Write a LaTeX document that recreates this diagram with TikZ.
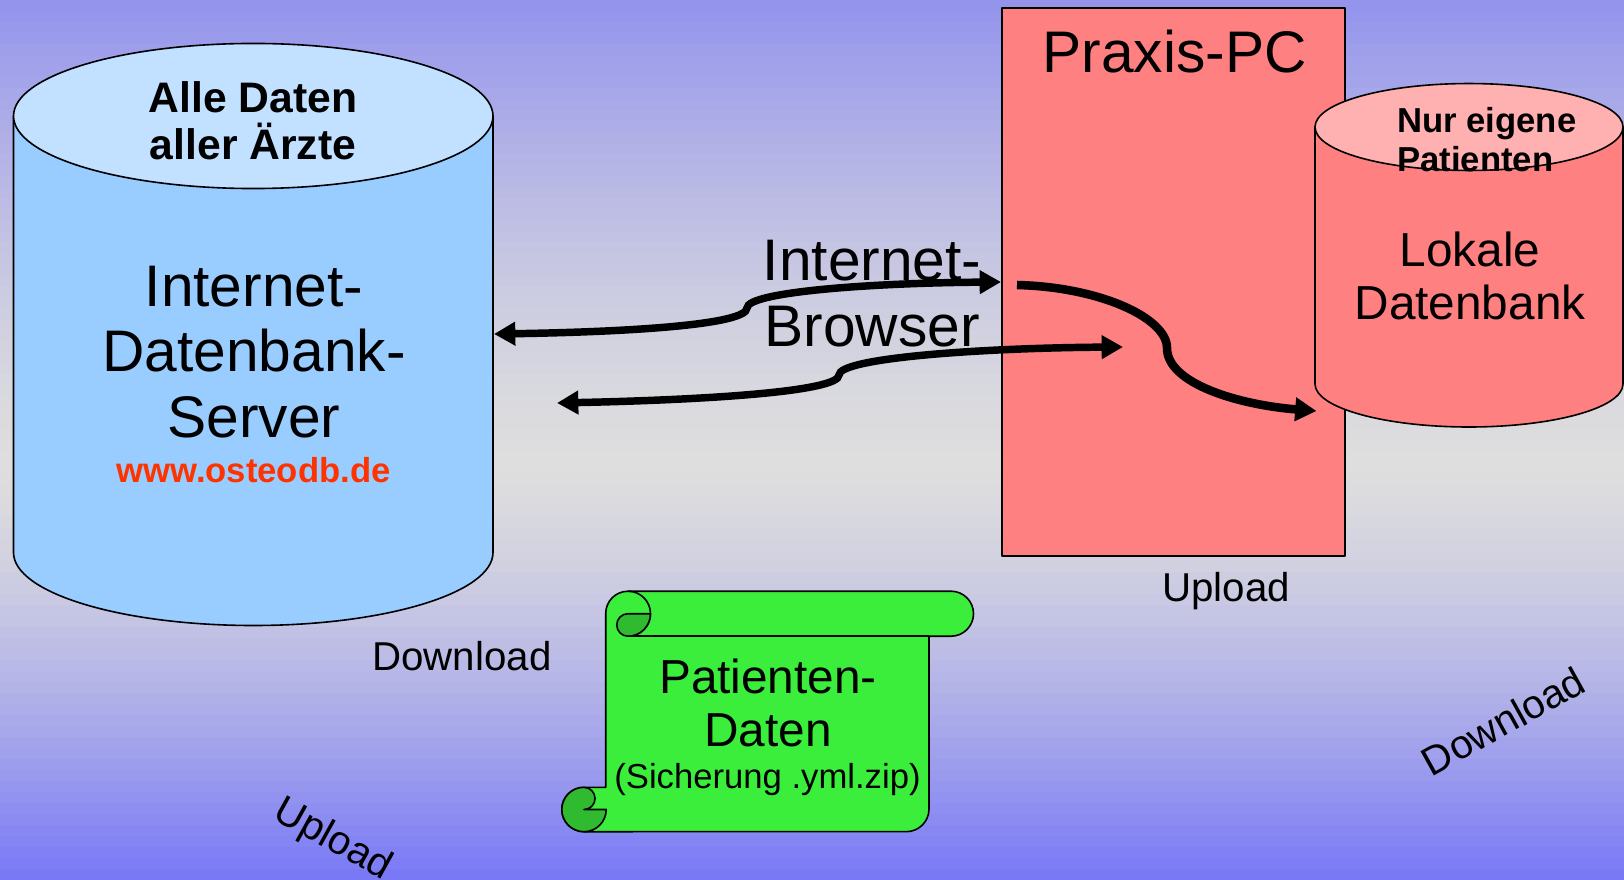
\documentclass[tikz,border=0pt]{standalone}
\usepackage{fontspec}
\setmainfont{Liberation Sans}
\usetikzlibrary{arrows.meta}
\definecolor{cylblue}{HTML}{99CCFF}
\definecolor{cyltop}{HTML}{C2E0FF}
\definecolor{pcred}{HTML}{FF8080}
\definecolor{pctop}{HTML}{FFB0B0}
\definecolor{scrollgreen}{HTML}{3CEE3C}
\definecolor{scrolldark}{HTML}{30BA30}
\definecolor{urlred}{HTML}{FF3300}
\tikzset{
  outline/.style={draw=black,line width=1.2pt,line join=round},
  label/.style={inner sep=0pt,align=center,text=black},
  big/.style={label,font=\fontsize{44}{49.3}\selectfont},
  mid/.style={label,font=\fontsize{35.8}{40.3}\selectfont},
  small/.style={label,font=\fontsize{30.2}{34}\selectfont},
  tiny/.style={label,font=\fontsize{26}{30}\selectfont},
  boldt/.style={label,font=\fontsize{32}{35.5}\selectfont\bfseries},
  boldu/.style={label,font=\fontsize{26}{29.5}\selectfont\bfseries},
  flow/.style={line width=5.6pt,black},
  flowthick/.style={line width=6.4pt,black},
  head/.tip={Triangle[length=16pt,width=17pt]}
}
\begin{document}
\begin{tikzpicture}[x=0.75pt,y=-0.75pt]
\useasboundingbox (0,0) rectangle (1624,880);
\clip (0,0) rectangle (1624,880);
% banded background
\foreach \yy in {0,11,...,880}{
  \pgfmathsetmacro{\tval}{pow(abs(460-\yy)/(\yy<460 ? 460 : 420)+0.001,1.4)}
  \pgfmathsetmacro{\rr}{min(1,\yy<460 ? 0.87-(0.87-0.58)*\tval : 0.87-(0.87-0.46)*\tval)}
  \pgfmathsetmacro{\bb}{min(1,\yy<460 ? 0.87+(0.93-0.87)*\tval : 0.87+(0.97-0.87)*\tval)}
  \definecolor{bandc}{rgb}{\rr,\rr,\bb}
  \fill[bandc] (0,\yy) rectangle (1624,\yy+12);
}

% server cylinder
\draw[outline,fill=cylblue] (13.5,116) -- (13.5,552.5) .. controls (13.5,592.8) and (120.9,625.5) .. (253.25,625.5) .. controls (385.6,625.5) and (493,592.8) .. (493,552.5) -- (493,116) -- cycle;
\draw[outline,fill=cyltop] (253.25,116) ellipse[x radius=179.8pt,y radius=54.4pt];

% Praxis PC
\draw[outline,fill=pcred] (1002,8) rectangle (1345,556);

% local database
\draw[outline,fill=pcred] (1315,127) -- (1315,384) .. controls (1315,407.7) and (1384,427) .. (1469,427) .. controls (1554,427) and (1623,407.7) .. (1623,384) -- (1623,127) -- cycle;
\draw[outline,fill=pctop] (1469,127) ellipse[x radius=115.5pt,y radius=32.6pt];

% scroll
\draw[outline,fill=scrollgreen]
  (628,591.2) -- (951,591.2) arc[start angle=90,end angle=-90,radius=16.875pt]
  -- (929,636.2) -- (929,809) arc[start angle=0,end angle=-90,radius=17pt]
  -- (584,831.7) arc[start angle=270,end angle=90,radius=16.65pt]
  -- (605.7,787.3) -- (605.7,613.5) arc[start angle=180,end angle=90,radius=16.7pt] -- cycle;
\draw[outline] (628,636.2) -- (929,636.2);
\draw[outline] (628,591.2) arc[start angle=90,end angle=-90,radius=16.875pt];
\draw[outline,fill=scrolldark] (650.5,613.7) -- (628,613.7) arc[start angle=90,end angle=270,radius=8.44pt] arc[start angle=-90,end angle=0,radius=16.875pt] -- cycle;
\draw[outline,fill=scrolldark] (584,787.3) arc[start angle=90,end angle=270,radius=16.65pt] arc[start angle=270,end angle=360,radius=16.65pt] -- (584,809.5) arc[start angle=-90,end angle=90,radius=8.3pt] -- cycle;

% labels
\node[boldt] (alle) at (253,120.5) {Alle Daten\\aller Ärzte};
\node[big] (server) at (254,352) {Internet-\\Datenbank-\\Server};
\node[boldu,text=urlred] (url) at (253.5,470) {www.osteodb.de};
\node[big] (praxis) at (1174.5,52) {Praxis-PC};
\node[boldu,align=left,anchor=west] (nur) at (1397,139.5) {Nur eigene\\Patienten};
\node[mid] (lokal) at (1470,276) {Lokale\\Datenbank};
\node[big] (browser) at (872,293.5) {Internet-\\Browser};
\node[small] (upa) at (1226,591.5) {Upload};
\node[small] (dla) at (462,656) {Download};
\node[mid] (pat) at (768,703) {Patienten-\\Daten};
\node[tiny] (sich) at (767.5,780) {(Sicherung .yml.zip)};
\node[small,rotate=-29] (upb) at (332.5,840) {Upload};
\node[small,rotate=29] (dlb) at (1503.3,721) {Download};

% connectors
\coordinate (aL) at (494,334);
\coordinate (aM) at (747,308);
\coordinate (aR) at (1001,282);
\coordinate (bL) at (557,403);
\coordinate (bM) at (839,375);
\coordinate (bR) at (1123,347);
\coordinate (cS) at (1017,285);
\coordinate (cM) at (1167,348);
\coordinate (cE) at (1316.5,411);
\draw[flow,{head}-{head}] (aL) .. controls (625,332) and (747,325) .. (aM) .. controls (747,292) and (870,283) .. (aR);
\draw[flow,{head}-{head}] (bL) .. controls (700,400) and (839,392) .. (bM) .. controls (839,358) and (980,348) .. (bR);
\draw[flowthick,-{head}] (cS) .. controls (1100,287) and (1167,318) .. (cM) .. controls (1167,384) and (1240,405) .. (cE);
\end{tikzpicture}
\end{document}
